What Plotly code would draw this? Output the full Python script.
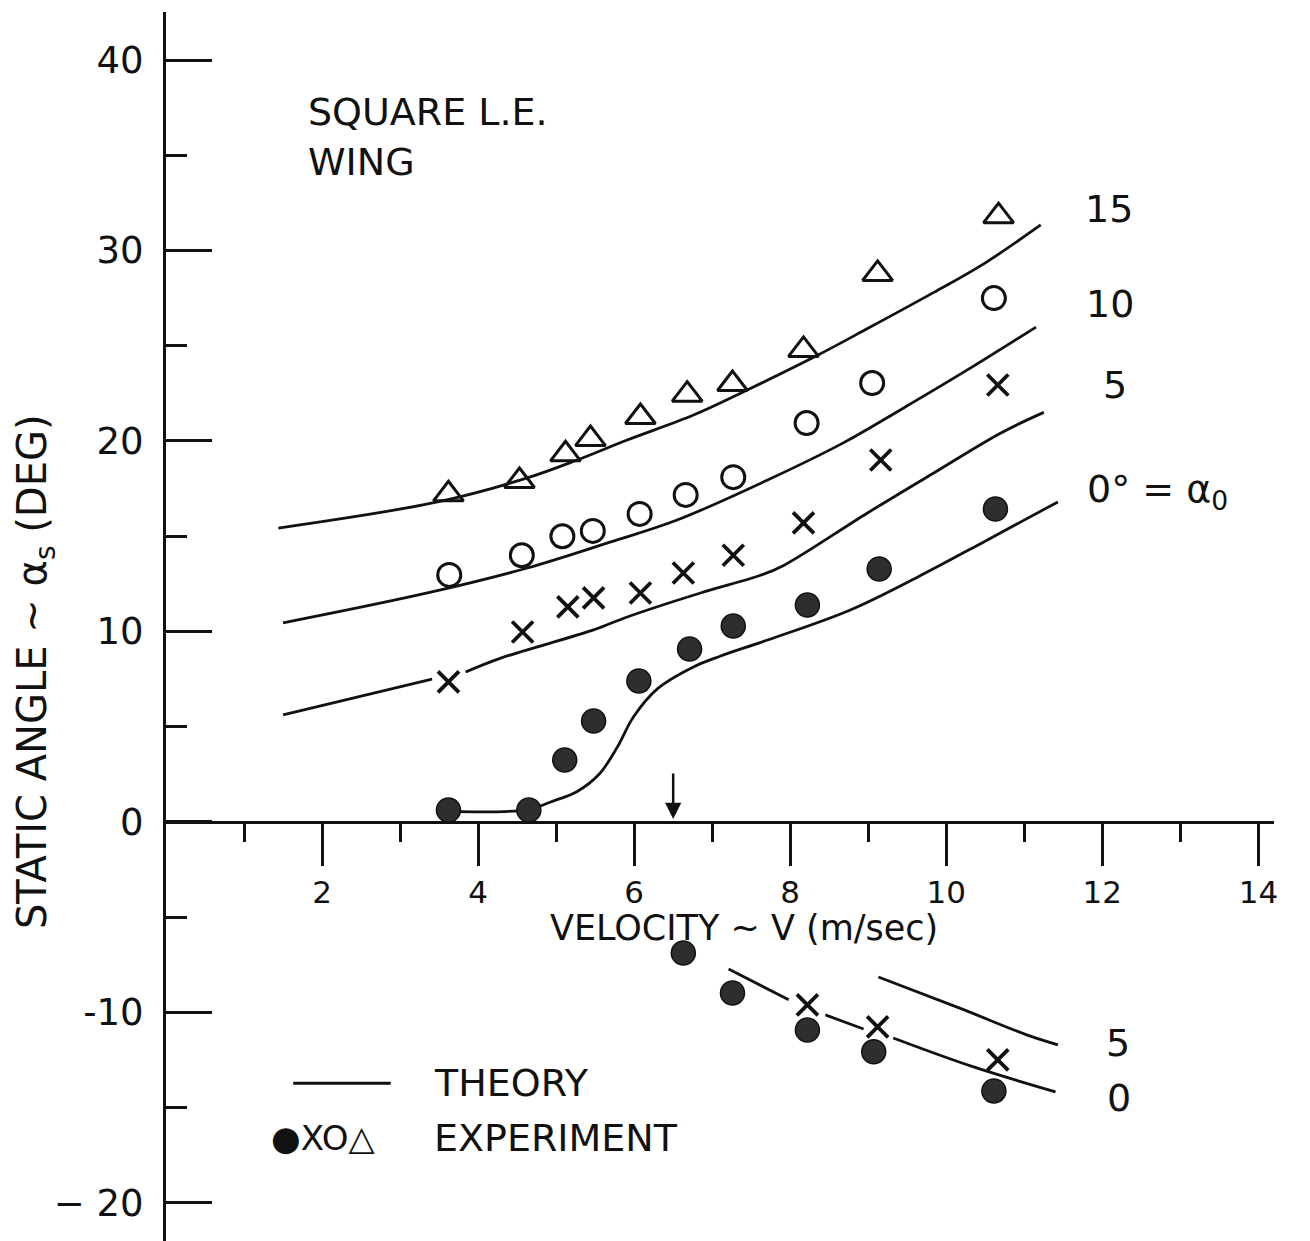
import plotly.graph_objects as go

# ---------------- data ----------------
# experiment, positive branch
v_tri = [3.62, 4.53, 5.12, 5.44, 6.08, 6.68, 7.26, 8.17, 9.12, 10.67]
a_tri = [17.2, 17.9, 19.3, 20.1, 21.26, 22.43, 22.99, 24.78, 28.77, 31.8]

v_circ = [3.63, 4.56, 5.08, 5.47, 6.07, 6.66, 7.27, 8.21, 9.05, 10.61]
a_circ = [12.97, 14.0, 15.0, 15.28, 16.17, 17.17, 18.1, 20.94, 23.04, 27.5]

v_x = [3.62, 4.57, 5.15, 5.48, 6.08, 6.63, 7.27, 8.17, 9.16, 10.66]
a_x = [7.35, 9.97, 11.29, 11.76, 12.02, 13.07, 14.0, 15.7, 19.0, 22.94]

v_dot = [3.62, 4.65, 5.11, 5.48, 6.06, 6.71, 7.27, 8.22, 9.14, 10.63]
a_dot = [0.63, 0.63, 3.25, 5.3, 7.4, 9.08, 10.29, 11.39, 13.28, 16.43]

# experiment, negative branch
v_dot_neg = [6.63, 7.26, 8.22, 9.07, 10.61]
a_dot_neg = [-6.88, -8.98, -10.92, -12.07, -14.12]

v_x_neg = [8.22, 9.12, 10.66]
a_x_neg = [-9.6, -10.76, -12.49]

# theory curves
th15_v = [1.44, 3.48, 4.63, 5.27, 5.91, 6.76, 7.45, 8.35, 8.99, 9.84, 10.48, 11.21]
th15_a = [15.43, 16.8, 18.06, 19.0, 20.05, 21.36, 22.68, 24.5, 25.9, 27.8, 29.3, 31.34]

th10_v = [1.5, 3.35, 4.63, 5.70, 6.55, 7.71, 8.68, 9.41, 10.27, 11.15]
th10_a = [10.45, 12.02, 13.33, 14.7, 15.85, 17.95, 19.9, 21.63, 23.73, 25.98]

th5_v = [1.5, 3.41, None, 3.84, 4.29, 5.48, 5.91, 6.85, 7.62, 7.91, 8.99, 9.84, 10.7, 11.25]
th5_a = [5.62, 7.5, None, 7.87, 8.6, 10.08, 10.76, 12.02, 12.95, 13.45, 16.22, 18.32, 20.42, 21.5]

th0_v = [3.62, 4.65, 4.93, 5.27, 5.55, 5.78, 5.99, 6.3, 6.76, 7.1, 7.71, 8.77, 9.63, 10.48, 11.43]
th0_a = [0.55, 0.65, 1.05, 1.6, 2.5, 3.9, 5.51, 7.0, 8.14, 8.7, 9.55, 11.13, 12.85, 14.7, 16.8]

th0_neg_v = [7.21, 7.98, None, 8.45, 8.94, None, 9.32, 10.35, 11.4]
th0_neg_a = [-7.72, -9.34, None, -10.13, -10.87, None, -11.34, -12.86, -14.17]

th5_neg_v = [9.13, 10.18, 11.04, 11.43]
th5_neg_a = [-8.14, -9.79, -11.19, -11.7]

x_major = [2, 4, 6, 8, 10, 12, 14]
x_minor = [1, 3, 5, 7, 9, 11, 13]
y_major = [-20, -10, 0, 10, 20, 30, 40]
y_major_text = ["\u2212 20", "-10", "0", "10", "20", "30", "40"]
y_minor = [-15, -5, 5, 15, 25, 35]

X_RANGE = [0, 14.2]
Y_RANGE = [-22.0, 42.52]

FONT = "DejaVu Sans"
INK = "#111111"

fig = go.Figure()

line_style = dict(color=INK, width=2.8, shape="spline", smoothing=1.0)
for v, a in [(th15_v, th15_a), (th10_v, th10_a), (th5_v, th5_a), (th0_v, th0_a),
             (th0_neg_v, th0_neg_a), (th5_neg_v, th5_neg_a)]:
    fig.add_trace(go.Scatter(x=v, y=a, mode="lines", line=line_style,
                             connectgaps=False, showlegend=False, hoverinfo="skip"))

fig.add_trace(go.Scatter(x=v_tri, y=a_tri, mode="markers", showlegend=False,
                         marker=dict(symbol="triangle-up-open", size=26,
                                     line=dict(color=INK, width=3), color=INK)))
fig.add_trace(go.Scatter(x=v_circ, y=a_circ, mode="markers", showlegend=False,
                         marker=dict(symbol="circle-open", size=23,
                                     line=dict(color=INK, width=3), color=INK)))
fig.add_trace(go.Scatter(x=v_x + v_x_neg, y=a_x + a_x_neg, mode="markers", showlegend=False,
                         marker=dict(symbol="x-thin-open", size=21,
                                     line=dict(color=INK, width=3.8), color=INK)))
fig.add_trace(go.Scatter(x=v_dot + v_dot_neg, y=a_dot + a_dot_neg, mode="markers",
                         showlegend=False,
                         marker=dict(symbol="circle", size=24, color="#2e2e2e",
                                     line=dict(color=INK, width=1.5))))

def txt(x, y, s, size=37, xanchor="left", xref="x", yref="y", angle=0):
    fig.add_annotation(x=x, y=y, xref=xref, yref=yref, text=s, showarrow=False,
                       xanchor=xanchor, yanchor="middle", textangle=angle,
                       font=dict(family=FONT, size=size, color=INK))

txt(1.79, 37.26, "SQUARE L.E.", size=38)
txt(1.79, 34.63, "WING", size=38)
txt(11.75, 32.16, "15", size=38)
txt(11.76, 27.17, "10", size=38)
txt(11.98, 22.96, "5", size=38)
txt(11.78, 17.34, "0° = α<sub>0</sub>", size=38)
txt(12.02, -11.61, "5", size=38)
txt(12.04, -14.5, "0", size=38)
txt(4.9, -5.55, "VELOCITY ~ V (m/sec)", size=35)
txt(3.41, -13.72, "THEORY", size=38)
txt(1.32, -16.6, "●XO△", size=34)
txt(3.41, -16.6, "EXPERIMENT", size=38)
txt(-0.118, 7.88, "STATIC ANGLE ~ α<sub>s</sub> (DEG)", size=40,
    xanchor="center", xref="paper", angle=-90)

# legend sample line
fig.add_shape(type="line", x0=1.63, x1=2.88, y0=-13.72, y1=-13.72,
              xref="x", yref="y", line=dict(color=INK, width=3))

# arrow marking critical velocity
fig.add_annotation(x=6.5, y=0.15, xref="x", yref="y", ax=0, ay=-47,
                   showarrow=True, arrowhead=2, arrowsize=1.3, arrowwidth=2.5,
                   arrowcolor=INK, text="")

x_pos = (0 - Y_RANGE[0]) / (Y_RANGE[1] - Y_RANGE[0])

fig.update_layout(
    width=1310, height=1241,
    margin=dict(l=166, r=36, t=12, b=0),
    paper_bgcolor="white", plot_bgcolor="white",
    showlegend=False,
    xaxis=dict(range=X_RANGE, anchor="free", position=x_pos,
               showline=True, linecolor=INK, linewidth=3,
               showgrid=False, zeroline=False,
               tickmode="array", tickvals=x_major,
               ticks="outside", ticklen=42, tickwidth=3, tickcolor=INK,
               ticklabelstandoff=0,
               tickfont=dict(family=FONT, size=31, color=INK),
               minor=dict(tickmode="array", tickvals=x_minor, ticks="outside",
                          ticklen=18, tickwidth=3, tickcolor=INK)),
    yaxis=dict(range=Y_RANGE, showline=True, linecolor=INK, linewidth=3,
               showgrid=False, zeroline=False,
               tickmode="array", tickvals=y_major, ticktext=y_major_text,
               ticks="inside", ticklen=46, tickwidth=3, tickcolor=INK,
               ticklabelstandoff=12,
               tickfont=dict(family=FONT, size=37, color=INK),
               minor=dict(tickmode="array", tickvals=y_minor, ticks="inside",
                          ticklen=21, tickwidth=3, tickcolor=INK)),
)

fig.write_html("out.html")
